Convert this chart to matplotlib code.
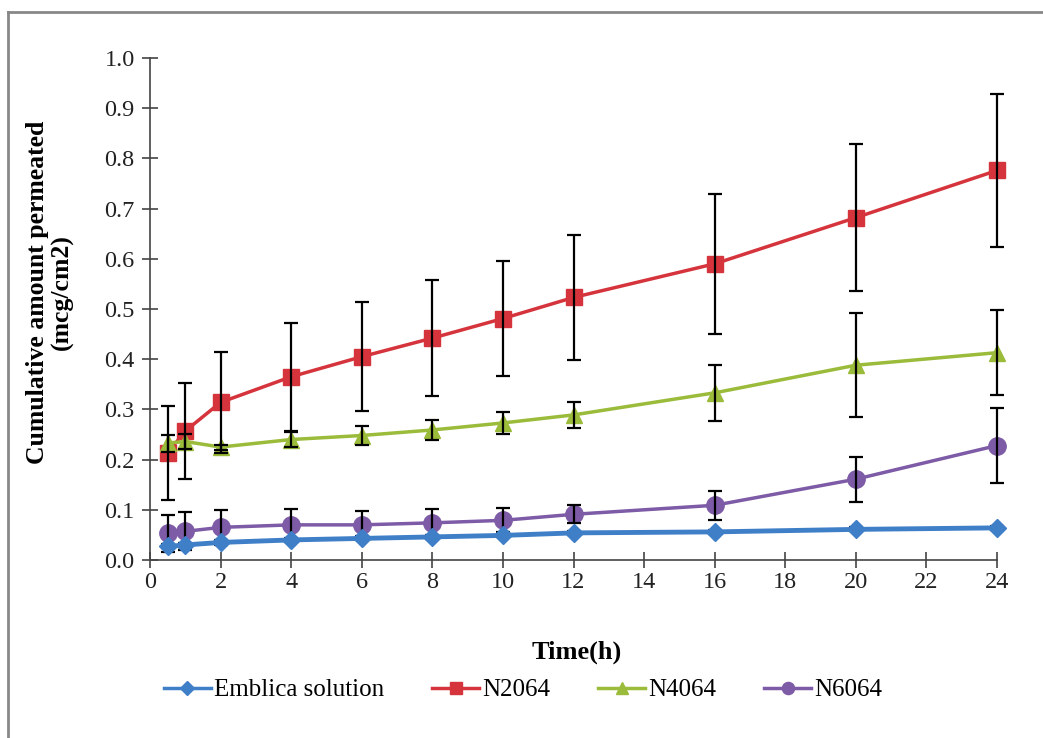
import numpy as np
import matplotlib
matplotlib.use("Agg")
import matplotlib.pyplot as plt
from matplotlib.lines import Line2D

plt.rcParams['font.family'] = ['Liberation Serif', 'DejaVu Serif']

# sampling times (h)
time_h = [0.5, 1, 2, 4, 6, 8, 10, 12, 16, 20, 24]

# cumulative amount permeated (mcg/cm2)
emblica = [0.027, 0.030, 0.035, 0.040, 0.043, 0.046, 0.049, 0.054, 0.056, 0.061, 0.064]
emblica_err = [0.004, 0.004, 0.004, 0.004, 0.004, 0.004, 0.004, 0.004, 0.004, 0.004, 0.004]

n2064 = [0.213, 0.257, 0.314, 0.365, 0.405, 0.442, 0.481, 0.523, 0.590, 0.682, 0.776]
n2064_err = [0.093, 0.095, 0.100, 0.108, 0.108, 0.115, 0.115, 0.124, 0.140, 0.147, 0.153]

n4064 = [0.233, 0.236, 0.225, 0.240, 0.248, 0.259, 0.273, 0.289, 0.333, 0.388, 0.413]
n4064_err = [0.017, 0.015, 0.005, 0.015, 0.018, 0.020, 0.022, 0.026, 0.056, 0.104, 0.085]

n6064 = [0.053, 0.057, 0.065, 0.070, 0.070, 0.074, 0.079, 0.091, 0.109, 0.161, 0.228]
n6064_err = [0.037, 0.038, 0.035, 0.032, 0.027, 0.027, 0.024, 0.018, 0.029, 0.045, 0.075]

series = [
    ("Emblica solution", emblica, emblica_err, "#3f7fc8", "D", 9.5),
    ("N2064", n2064, n2064_err, "#d6343c", "s", 12),
    ("N4064", n4064, n4064_err, "#9bbb3a", "^", 11.5),
    ("N6064", n6064, n6064_err, "#7d5ba6", "o", 12.5),
]

fig = plt.figure(figsize=(10.43, 7.38), dpi=100)
ax = fig.add_axes([150 / 1043, 1 - 560 / 738, (997 - 150) / 1043, (560 - 58) / 738])

handles = []
for name, vals, err, col, mk, ms in series:
    blue = name == "Emblica solution"
    ax.errorbar(time_h, vals, yerr=err, fmt='none', ecolor='black',
                elinewidth=1.6, capsize=5, capthick=1.6,
                zorder=2 if blue else 4, clip_on=False)
    lw = 3.5 if blue else 2.5
    ax.plot(time_h, vals, color=col, lw=lw, marker=mk, markersize=ms,
            markeredgecolor=col, zorder=5 if blue else 3, clip_on=False)
    handles.append(Line2D([], [], color=col, lw=2.5, marker=mk,
                          markersize=ms * 0.7, markeredgecolor=col))

ax.set_xlim(0, 24)
ax.set_ylim(0, 1.0)
ax.set_xticks(np.arange(0, 25, 2))
ax.set_yticks(np.arange(0, 1.01, 0.1))
ax.set_yticklabels([f"{v:.1f}" for v in np.arange(0, 1.01, 0.1)])
ax.tick_params(axis='both', direction='inout', length=12, width=1.2,
               color='#444444', labelsize=17.5, labelcolor='#222222')
ax.tick_params(axis='x', pad=3)
ax.tick_params(axis='y', pad=5)
for s in ['top', 'right']:
    ax.spines[s].set_visible(False)
for s in ['left', 'bottom']:
    ax.spines[s].set_color('#444444')
    ax.spines[s].set_linewidth(1.2)

fig.text(577 / 1043, 1 - 652 / 738, "Time(h)", ha='center', va='center',
         fontsize=19, fontweight='bold')
fig.text(50 / 1043, 1 - 292 / 738, "Cumulative amount permeated\n(mcg/cm2)",
         ha='center', va='center', rotation=90, fontsize=18.5,
         fontweight='bold', linespacing=1.05)

fig.legend(handles, [s[0] for s in series], loc='center',
           bbox_to_anchor=(523 / 1043, 1 - 690 / 738), ncol=4, frameon=False,
           fontsize=18, handlelength=1.9, columnspacing=1.9, handletextpad=0.12)

# partial outer frame (left and top)
fig.add_artist(Line2D([8 / 1043, 8 / 1043], [0, 1 - 12 / 738],
                      transform=fig.transFigure, color='#888888', lw=2))
fig.add_artist(Line2D([8 / 1043, 1], [1 - 12 / 738, 1 - 12 / 738],
                      transform=fig.transFigure, color='#888888', lw=2))

fig.savefig("out.png", dpi=100)
